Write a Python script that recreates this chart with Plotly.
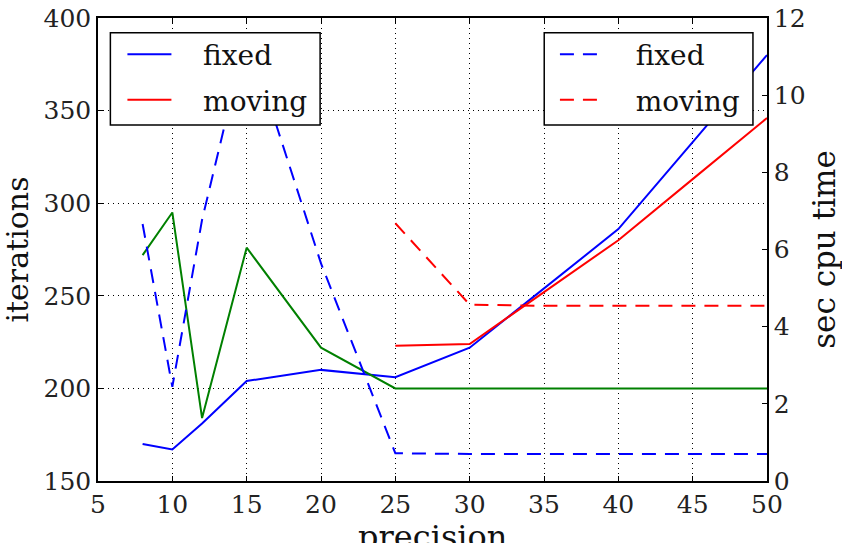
import plotly.graph_objects as go

# ---- data ----
precision = [8, 10, 12, 15, 20, 25, 30, 35, 40, 45, 50]
precision_moving = [25, 30, 35, 40, 45, 50]
iter_fixed = [170, 167, 181, 204, 210, 206, 222, 254, 286, 333, 380]
iter_moving = [223, 224, 252, 280, 313, 346]
iter_other = [272, 295, 184, 276, 222, 200, 200, 200, 200, 200, 200]
time_fixed = [6.66, 2.44, 6.77, 11.6, 5.64, 0.72, 0.70, 0.70, 0.70, 0.70, 0.70]
time_moving = [6.68, 4.57, 4.54, 4.54, 4.54, 4.54]

x_ticks = [5, 10, 15, 20, 25, 30, 35, 40, 45, 50]
iter_ticks = [150, 200, 250, 300, 350, 400]
time_ticks = [0, 2, 4, 6, 8, 10, 12]

FONT = "DejaVu Serif"
BLUE = "#0000ff"
RED = "#ff0000"
GREEN = "#008000"
DASH = "14px,9px"
GAP = "\u00a0\u00a0\u00a0"

fig = go.Figure()
fig.add_trace(go.Scatter(x=precision, y=iter_fixed, mode="lines", name=GAP + "fixed",
                         line=dict(color=BLUE, width=2), legend="legend",
                         legendgroup="a"))
fig.add_trace(go.Scatter(x=precision_moving, y=iter_moving, mode="lines", name=GAP + "moving",
                         line=dict(color=RED, width=2), legend="legend",
                         legendgroup="b"))
fig.add_trace(go.Scatter(x=precision, y=iter_other, mode="lines", showlegend=False,
                         line=dict(color=GREEN, width=2)))
fig.add_trace(go.Scatter(x=precision, y=time_fixed, mode="lines", name=GAP + "fixed",
                         line=dict(color=BLUE, width=2, dash=DASH), yaxis="y2",
                         legend="legend2", legendgroup="c"))
fig.add_trace(go.Scatter(x=precision_moving, y=time_moving, mode="lines", name=GAP + "moving",
                         line=dict(color=RED, width=2, dash=DASH), yaxis="y2",
                         legend="legend2", legendgroup="d"))

axis_common = dict(
    ticks="inside", ticklen=5, tickcolor="black", tickwidth=1,
    showline=True, linecolor="black", linewidth=1.5, automargin=False,
    zeroline=False, tickfont=dict(family=FONT, size=25, color="#222"),
)

legend_common = dict(xanchor="left", yanchor="top", bgcolor="rgba(0,0,0,0)",
                     borderwidth=0, font=dict(family=FONT, size=28),
                     itemwidth=44, tracegroupgap=6)

box_style = dict(type="rect", xref="paper", yref="paper", layer="above",
                 line=dict(color="black", width=1.5), fillcolor="white")

fig.update_layout(
    width=842, height=543,
    margin=dict(l=98, r=75, t=18, b=62, autoexpand=False),
    paper_bgcolor="white", plot_bgcolor="white",
    font=dict(family=FONT, color="#111"),
    xaxis=dict(range=[5, 50], tickvals=x_ticks, mirror="ticks",
               showgrid=True, gridcolor="black", gridwidth=1, griddash="1px,4px",
               **axis_common),
    yaxis=dict(range=[150, 400], tickvals=iter_ticks, mirror=True,
               showgrid=True, gridcolor="black", gridwidth=1, griddash="1px,4px",
               title=dict(text="iterations", font=dict(family=FONT, size=30), standoff=10),
               **axis_common),
    yaxis2=dict(range=[0, 12], tickvals=time_ticks, overlaying="y", side="right",
                showgrid=False,
                title=dict(text="sec cpu time", font=dict(family=FONT, size=31), standoff=10),
                **axis_common),
    legend=dict(x=0.0365, y=0.975, **legend_common),
    legend2=dict(x=0.683, y=0.975, **legend_common),
    shapes=[dict(x0=0.0185, x1=0.332, y0=0.769, y1=0.968, **box_style),
            dict(x0=0.667, x1=0.979, y0=0.769, y1=0.968, **box_style)],
    annotations=[dict(text="precision", xref="paper", yref="paper", x=0.5, y=-0.075,
                      xanchor="center", yanchor="top", showarrow=False,
                      font=dict(family=FONT, size=32))],
)

fig.write_html("out.html", config={"displayModeBar": False},
               post_script="document.body.style.margin='0';")
